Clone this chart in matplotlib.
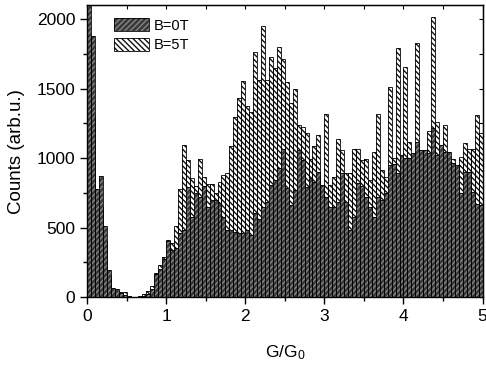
import matplotlib
matplotlib.use("Agg")
import matplotlib.pyplot as plt
from matplotlib.legend_handler import HandlerTuple
from matplotlib.ticker import MultipleLocator
import numpy as np

plt.rcParams['font.family'] = ['Liberation Sans', 'DejaVu Sans']
plt.rcParams['mathtext.default'] = 'regular'
plt.rcParams['hatch.linewidth'] = 1.0

# histogram bins: 0 .. 5 G0, width 0.05
bin_width = 0.05
bin_left = np.arange(100) * bin_width

# counts, B = 0 T
counts_0T = [2400, 1877, 776, 870, 510, 194, 63, 55, 30, 15,
             7, 3, 2, 5, 8, 25, 60, 165, 200, 275,
             403, 338, 352, 460, 482, 791, 575, 748, 719, 798,
             650, 700, 700, 680, 575, 482, 482, 470, 460, 460,
             482, 446, 604, 560, 647, 683, 805, 841, 930, 1064,
             784, 662, 770, 1057, 985, 791, 856, 827, 899, 805,
             719, 647, 647, 683, 892, 683, 482, 575, 820, 800,
             719, 647, 575, 720, 697, 750, 949, 960, 892, 1021,
             1000, 1000, 1035, 1115, 1057, 1057, 1035, 1215, 1021, 1093,
             1043, 1043, 963, 949, 748, 899, 899, 755, 669, 662]

# counts, B = 5 T
counts_5T = [1500, 1300, 600, 650, 400, 150, 50, 45, 38, 35,
             5, 2, 2, 4, 20, 45, 80, 170, 230, 290,
             410, 388, 510, 780, 1093, 985, 856, 798, 992, 863,
             812, 812, 748, 827, 877, 892, 1086, 1294, 1431, 1553,
             1373, 1330, 1762, 1560, 1948, 1560, 1725, 1646, 1797, 1711,
             1546, 1395, 1495, 1237, 1222, 1179, 992, 1086, 1165, 748,
             1316, 805, 863, 1136, 1057, 892, 892, 1064, 1064, 985,
             992, 841, 1043, 1316, 913, 863, 1510, 1000, 1790, 1014,
             1654, 1115, 900, 1826, 1000, 1050, 1194, 2013, 1258, 1050,
             1237, 1000, 992, 949, 1007, 1108, 1064, 1064, 1309, 1179]

labels = ['B=0T', 'B=5T']

fig = plt.figure(figsize=(4.86, 3.65), dpi=100)
ax = fig.add_axes([0.179, 0.186, 0.814, 0.800])

# B=5T behind: white with dark hatch, then black outline
h5 = ax.bar(bin_left, counts_5T, width=bin_width, align='edge', facecolor='white',
            edgecolor='#111111', hatch='\\\\\\\\\\\\', linewidth=0, zorder=1)
h5e = ax.bar(bin_left, counts_5T, width=bin_width, align='edge', fill=False,
             edgecolor='black', linewidth=0.6, zorder=1.1)
# B=0T in front: dark gray with lighter hatch
h0 = ax.bar(bin_left, counts_0T, width=bin_width, align='edge', facecolor='#383838',
            edgecolor='#858585', hatch='//////', linewidth=0, zorder=2)
h0e = ax.bar(bin_left, counts_0T, width=bin_width, align='edge', fill=False,
             edgecolor='black', linewidth=0.6, zorder=2.1)

ax.set_xlim(0, 5)
ax.set_ylim(0, 2100)
ax.xaxis.set_major_locator(MultipleLocator(1))
ax.xaxis.set_minor_locator(MultipleLocator(0.5))
ax.yaxis.set_major_locator(MultipleLocator(500))
ax.yaxis.set_minor_locator(MultipleLocator(250))
ax.tick_params(which='both', direction='out', labelsize=12.5, width=1)
ax.tick_params(which='major', length=5)
ax.tick_params(which='minor', length=3)

# mirrored ticks on top and right, pointing inward
top = ax.secondary_xaxis('top')
top.xaxis.set_major_locator(MultipleLocator(0.5))
top.tick_params(direction='in', length=3, labeltop=False)
right = ax.secondary_yaxis('right')
right.yaxis.set_major_locator(MultipleLocator(250))
right.tick_params(direction='in', length=3, labelright=False)

for sp in ax.spines.values():
    sp.set_linewidth(1)

ax.set_xlabel('G/G$_0$', fontsize=12.5, labelpad=14)
ax.set_ylabel('Counts (arb.u.)', fontsize=13.5, labelpad=8)

leg = ax.legend([(h0[0], h0e[0]), (h5[0], h5e[0])], labels,
                handler_map={tuple: HandlerTuple(ndivide=1, pad=0)},
                loc='upper left', bbox_to_anchor=(0.035, 1.0), frameon=False,
                fontsize=10.5, handlelength=2.4, handleheight=1.0,
                handletextpad=0.3, labelspacing=0.35)

fig.savefig('out.png', dpi=100)
